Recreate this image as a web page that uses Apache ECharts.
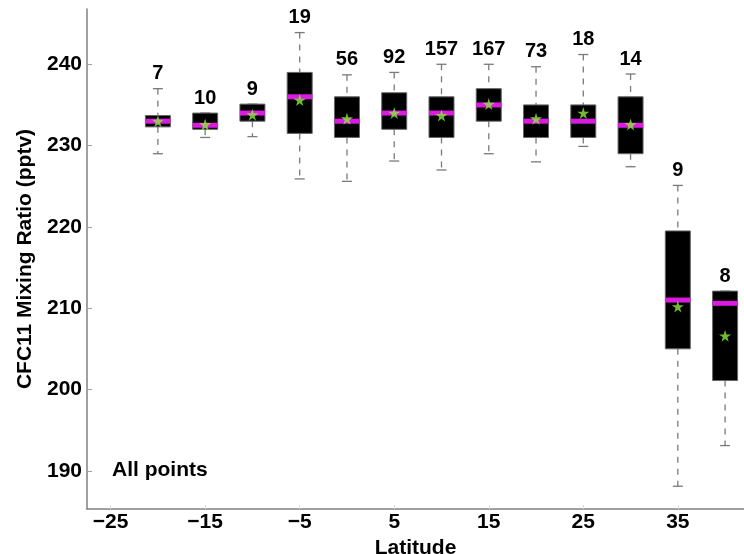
<!DOCTYPE html>
<html>
<head>
<meta charset="utf-8">
<script src="https://cdn.jsdelivr.net/npm/echarts@6/dist/echarts.min.js"></script>
<style>
  html, body { margin: 0; padding: 0; background: #fff; }
  #chart { width: 744px; height: 554px; }
</style>
</head>
<body>
<div id="chart"></div>
<script>
// latitude bins (box centres)
var latitudes = [-20, -15, -10, -5, 0, 5, 10, 15, 20, 25, 30, 35, 40];
// whisker ends and box stats, CFC11 (pptv)
var whiskerLow  = [229.0, 231.0, 231.1, 225.9, 225.6, 228.1, 227.0, 229.0, 228.0, 229.9, 227.4, 188.1, 193.1];
var quartile1   = [232.3, 232.0, 233.0, 231.5, 231.0, 232.0, 231.0, 233.0, 231.0, 231.0, 229.0, 205.0, 201.1];
var medians     = [233.0, 232.5, 234.0, 236.0, 233.0, 234.0, 234.0, 235.0, 233.0, 233.0, 232.5, 211.0, 210.6];
var quartile3   = [233.7, 234.0, 235.1, 239.0, 236.0, 236.5, 236.0, 237.0, 235.0, 235.0, 236.0, 219.5, 212.1];
var whiskerHigh = [237.0, 234.0, 235.1, 243.9, 238.7, 239.0, 240.0, 240.0, 239.7, 241.2, 238.8, 225.1, 212.1];
var means       = [233.0, 232.6, 233.8, 235.6, 233.3, 234.0, 233.7, 235.1, 233.3, 234.0, 232.6, 210.2, 206.6];
var counts      = [7, 10, 9, 19, 56, 92, 157, 167, 73, 18, 14, 9, 8];
// tick labels
var xTicks = [-25, -15, -5, 5, 15, 25, 35];
var yTicks = [190, 200, 210, 220, 230, 240];

var font = 'Liberation Sans, Arial, Helvetica, sans-serif';

var boxData = latitudes.map(function (lat, i) {
    return [lat, whiskerLow[i], quartile1[i], medians[i], quartile3[i], whiskerHigh[i], counts[i]];
});
var meanData = latitudes.map(function (lat, i) {
    return [lat, means[i]];
});

//盒须图
function renderBox(params, api) {
    var x = api.value(0);
    var lo = api.coord([x, api.value(1)]);
    var q1 = api.coord([x, api.value(2)]);
    var md = api.coord([x, api.value(3)]);
    var q3 = api.coord([x, api.value(4)]);
    var hi = api.coord([x, api.value(5)]);
    var cx = lo[0];
    var half = 12.5;
    var cap = 5;
    var whisker = {stroke: '#7a7a7a', lineWidth: 1.3, lineDash: [6, 6]};
    var capStyle = {stroke: '#7a7a7a', lineWidth: 1.3};
    return {
        type: 'group',
        children: [
            {type: 'line', shape: {x1: cx, y1: hi[1], x2: cx, y2: q3[1]}, style: whisker},
            {type: 'line', shape: {x1: cx, y1: q1[1], x2: cx, y2: lo[1]}, style: whisker},
            {type: 'line', shape: {x1: cx - cap, y1: hi[1], x2: cx + cap, y2: hi[1]}, style: capStyle},
            {type: 'line', shape: {x1: cx - cap, y1: lo[1], x2: cx + cap, y2: lo[1]}, style: capStyle},
            {
                type: 'rect',
                shape: {x: cx - half, y: q3[1], width: half * 2, height: q1[1] - q3[1]},
                style: {fill: '#000', stroke: '#666', lineWidth: 1}
            },
            {
                type: 'rect',
                shape: {x: cx - half, y: md[1] - 2.5, width: half * 2, height: 5},
                style: {fill: '#d91ce0'}
            },
            {
                type: 'text',
                x: cx,
                y: hi[1] - 15,
                style: {
                    text: String(api.value(6)),
                    textAlign: 'center',
                    textVerticalAlign: 'middle',
                    font: 'bold 20px ' + font,
                    fill: '#000'
                }
            }
        ]
    };
}

var chart = echarts.init(document.getElementById('chart'));
chart.setOption({
    animation: false,
    backgroundColor: '#fff',
    grid: {left: 87, right: 0, top: 9, bottom: 45, outerBoundsMode: 'none'},
    xAxis: {
        type: 'value',
        min: -27.5,
        max: 42,
        name: 'Latitude',
        nameLocation: 'middle',
        nameGap: 22,
        nameTextStyle: {fontFamily: font, fontWeight: 'bold', fontSize: 21, color: '#000'},
        splitLine: {show: false},
        axisLine: {onZero: false, lineStyle: {color: '#808080', width: 1.5}},
        axisTick: {inside: true, length: 4, lineStyle: {color: '#dcdcdc'}, customValues: xTicks},
        axisLabel: {
            customValues: xTicks,
            margin: 3,
            fontFamily: font,
            fontWeight: 'bold',
            fontSize: 21,
            color: '#000',
            formatter: function (v) {
                return String(v).replace('-', '\u2212');
            }
        }
    },
    yAxis: {
        type: 'value',
        min: 185.3,
        max: 246.8,
        name: 'CFC11 Mixing Ratio (pptv)',
        nameLocation: 'middle',
        nameGap: 47,
        nameTextStyle: {fontFamily: font, fontWeight: 'bold', fontSize: 21, color: '#000'},
        splitLine: {show: false},
        axisLine: {show: true, onZero: false, lineStyle: {color: '#808080', width: 1.5}},
        axisTick: {show: true, inside: true, length: 5, lineStyle: {color: '#a0a0a0'}, customValues: yTicks},
        axisLabel: {
            customValues: yTicks,
            margin: 5,
            fontFamily: font,
            fontWeight: 'bold',
            fontSize: 21,
            color: '#000'
        }
    },
    graphic: [{
        type: 'text',
        left: 112,
        top: 460,
        style: {text: 'All points', font: 'bold 21px ' + font, fill: '#000'}
    }],
    series: [{
        type: 'custom',
        renderItem: renderBox,
        data: boxData,
        encode: {x: 0, y: [1, 2, 3, 4, 5]},
        clip: false,
        z: 2
    }, {
        type: 'scatter',
        data: meanData,
        symbol: 'path://M50,0 L61,35 L98,35 L68,57 L79,91 L50,70 L21,91 L32,57 L2,35 L39,35 Z',
        symbolSize: 12,
        itemStyle: {color: '#8ee83c'},
        z: 3
    }]
});
</script>
</body>
</html>
